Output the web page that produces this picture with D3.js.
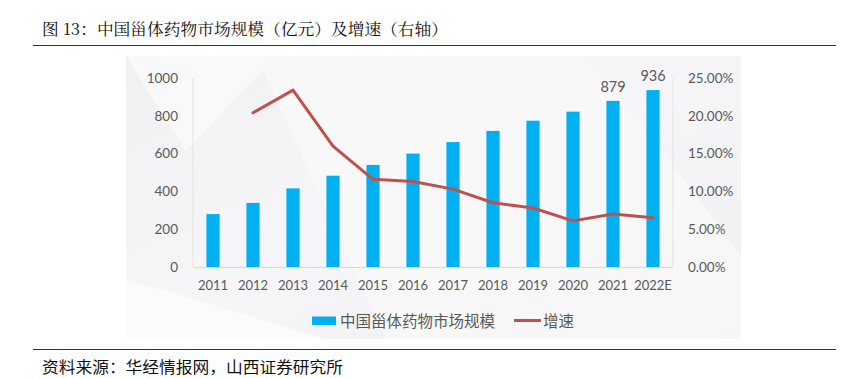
<!DOCTYPE html>
<html><head><meta charset="utf-8">
<script src="https://cdn.jsdelivr.net/npm/d3@7"></script>
<style>
body{margin:0;background:#fff;}
svg{display:block;}
</style></head>
<body>
<svg id="c" width="855" height="378"></svg>
<script>
const categories = ["2011","2012","2013","2014","2015","2016","2017","2018","2019","2020","2021","2022E"];
const marketSize = [280, 339, 416, 483, 540, 600, 661, 720, 774, 822, 879, 936];
const growth = [null, 20.4, 23.4, 16.0, 11.6, 11.3, 10.3, 8.5, 7.8, 6.1, 7.0, 6.5];
const leftTicks = [0, 200, 400, 600, 800, 1000];
const rightTicks = [0, 5, 10, 15, 20, 25];
const labeledYears = ["2021", "2022E"];
const title = "图 13：中国甾体药物市场规模（亿元）及增速（右轴）";
const source = "资料来源：华经情报网，山西证券研究所";
const seriesNames = ["中国甾体药物市场规模", "增速"];

const svg = d3.select("#c");
const numFont = "Lato, 'Noto Sans', sans-serif";
const cjkFont = "'Noto Sans CJK SC', sans-serif";
const textColor = "#595959";

// header & footer
svg.append("text").attr("x", 42).attr("y", 35).attr("font-family", "'Noto Serif CJK SC','Noto Sans CJK SC',serif")
  .attr("font-size", 16).attr("fill", "#111")
  .attr("textLength", 406).attr("lengthAdjust", "spacingAndGlyphs").text(title);
svg.append("line").attr("x1", 33).attr("x2", 836).attr("y1", 45.5).attr("y2", 45.5).attr("stroke", "#333").attr("stroke-width", 1.2);
svg.append("line").attr("x1", 33).attr("x2", 836).attr("y1", 349.5).attr("y2", 349.5).attr("stroke", "#333").attr("stroke-width", 1.2);
svg.append("text").attr("x", 42).attr("y", 373).attr("font-family", cjkFont)
  .attr("font-size", 15.5).attr("fill", "#111")
  .attr("textLength", 301).attr("lengthAdjust", "spacingAndGlyphs").text(source);

// background panel
const defs = svg.append("defs");
const g1 = defs.append("linearGradient").attr("id", "bg").attr("x1", "0").attr("y1", "0").attr("x2", "1").attr("y2", "1");
g1.append("stop").attr("offset", "0%").attr("stop-color", "#f1f1f3");
g1.append("stop").attr("offset", "50%").attr("stop-color", "#f6f6f8");
g1.append("stop").attr("offset", "100%").attr("stop-color", "#efeff1");
const px0 = 126, px1 = 741, py0 = 56, py1 = 339;
svg.append("rect").attr("x", px0).attr("y", py0).attr("width", px1 - px0).attr("height", py1 - py0).attr("fill", "url(#bg)");
const clip = defs.append("clipPath").attr("id", "pc");
clip.append("rect").attr("x", px0).attr("y", py0).attr("width", px1 - px0).attr("height", py1 - py0);
const deco = svg.append("g").attr("clip-path", "url(#pc)");
deco.append("path").attr("d", `M${px0},${py0} L${px0+150},${py0} L${px0+60},${py0+95} Z`).attr("fill", "#fafafb").attr("opacity", 0.8);
deco.append("path").attr("d", `M${px0+130},${py0} L${px1-160},${py0} L${px1-90},${py0+80} L${px1},${py0+200} L${px1},${py1} L${px0+260},${py1} Z`).attr("fill", "#f9f9fa").attr("opacity", 0.7);
deco.append("path").attr("d", `M${px0},${py1-60} L${px0+200},${py1} L${px0},${py1} Z`).attr("fill", "#fbfbfc");

// scales
const x0 = 193, x1 = 673, yTop = 78, yBot = 267;
const x = d3.scaleBand().domain(categories).range([x0, x1]).paddingInner(0.67).paddingOuter(0.335);
const yL = d3.scaleLinear().domain([0, 1000]).range([yBot, yTop]);
const yR = d3.scaleLinear().domain([0, 25]).range([yBot, yTop]);

// axis lines
svg.append("line").attr("x1", x0).attr("x2", x0).attr("y1", yTop).attr("y2", yBot).attr("stroke", "#e2e2e2");
svg.append("line").attr("x1", x1).attr("x2", x1).attr("y1", yTop).attr("y2", yBot).attr("stroke", "#e2e2e2");

// left axis
const axL = d3.axisLeft(yL).tickValues(leftTicks).tickSize(0).tickPadding(15).tickFormat(d => String(d));
const gL = svg.append("g").attr("transform", `translate(${x0},0)`).call(axL);
gL.select(".domain").remove();
gL.selectAll("text").attr("font-family", numFont).attr("font-size", 13.5).attr("fill", textColor);

// right axis
const axR = d3.axisRight(yR).tickValues(rightTicks).tickSize(0).tickPadding(15).tickFormat(d => d.toFixed(2) + "%");
const gR = svg.append("g").attr("transform", `translate(${x1},0)`).call(axR);
gR.select(".domain").remove();
gR.selectAll("text").attr("font-family", numFont).attr("font-size", 13.5).attr("fill", textColor);

// bars
svg.append("g").selectAll("rect").data(categories).join("rect")
  .attr("x", (d) => x(d)).attr("width", x.bandwidth())
  .attr("y", (d, i) => yL(marketSize[i])).attr("height", (d, i) => yBot - yL(marketSize[i]))
  .attr("fill", "#00b0f0");

// baseline
svg.append("line").attr("x1", x0).attr("x2", x1).attr("y1", yBot + 0.5).attr("y2", yBot + 0.5).attr("stroke", "#d9d9d9");

// x axis
const axX = d3.axisBottom(x).tickSize(0).tickPadding(14);
const gX = svg.append("g").attr("transform", `translate(0,${yBot})`).call(axX);
gX.select(".domain").remove();
gX.selectAll("text").attr("font-family", numFont).attr("font-size", 13).attr("fill", textColor);

// data labels
svg.append("g").selectAll("text").data(categories.filter(c => labeledYears.includes(c))).join("text")
  .attr("x", d => x(d) + x.bandwidth() / 2)
  .attr("y", d => yL(marketSize[categories.indexOf(d)]) - 9)
  .attr("text-anchor", "middle").attr("font-family", numFont).attr("font-size", 14.5).attr("fill", textColor)
  .text(d => marketSize[categories.indexOf(d)]);

// line
const pts = categories.map((c, i) => ({c, v: growth[i]})).filter(d => d.v != null);
const line = d3.line().x(d => x(d.c) + x.bandwidth() / 2).y(d => yR(d.v));
svg.append("path").datum(pts).attr("d", line).attr("fill", "none").attr("stroke", "#c0504d")
  .attr("stroke-width", 3).attr("stroke-linejoin", "round").attr("stroke-linecap", "round");

// legend
const lg = svg.append("g");
lg.append("rect").attr("x", 312).attr("y", 316.5).attr("width", 24).attr("height", 8.5).attr("fill", "#00b0f0");
lg.append("text").attr("x", 340).attr("y", 327).attr("font-family", cjkFont).attr("font-size", 15.5).attr("fill", textColor)
  .attr("textLength", 155).attr("lengthAdjust", "spacingAndGlyphs").text(seriesNames[0]);
lg.append("line").attr("x1", 514).attr("x2", 541).attr("y1", 320.5).attr("y2", 320.5).attr("stroke", "#c0504d").attr("stroke-width", 3);
lg.append("text").attr("x", 543).attr("y", 327).attr("font-family", cjkFont).attr("font-size", 15.5).attr("fill", textColor)
  .attr("textLength", 31).attr("lengthAdjust", "spacingAndGlyphs").text(seriesNames[1]);
</script>
</body></html>
